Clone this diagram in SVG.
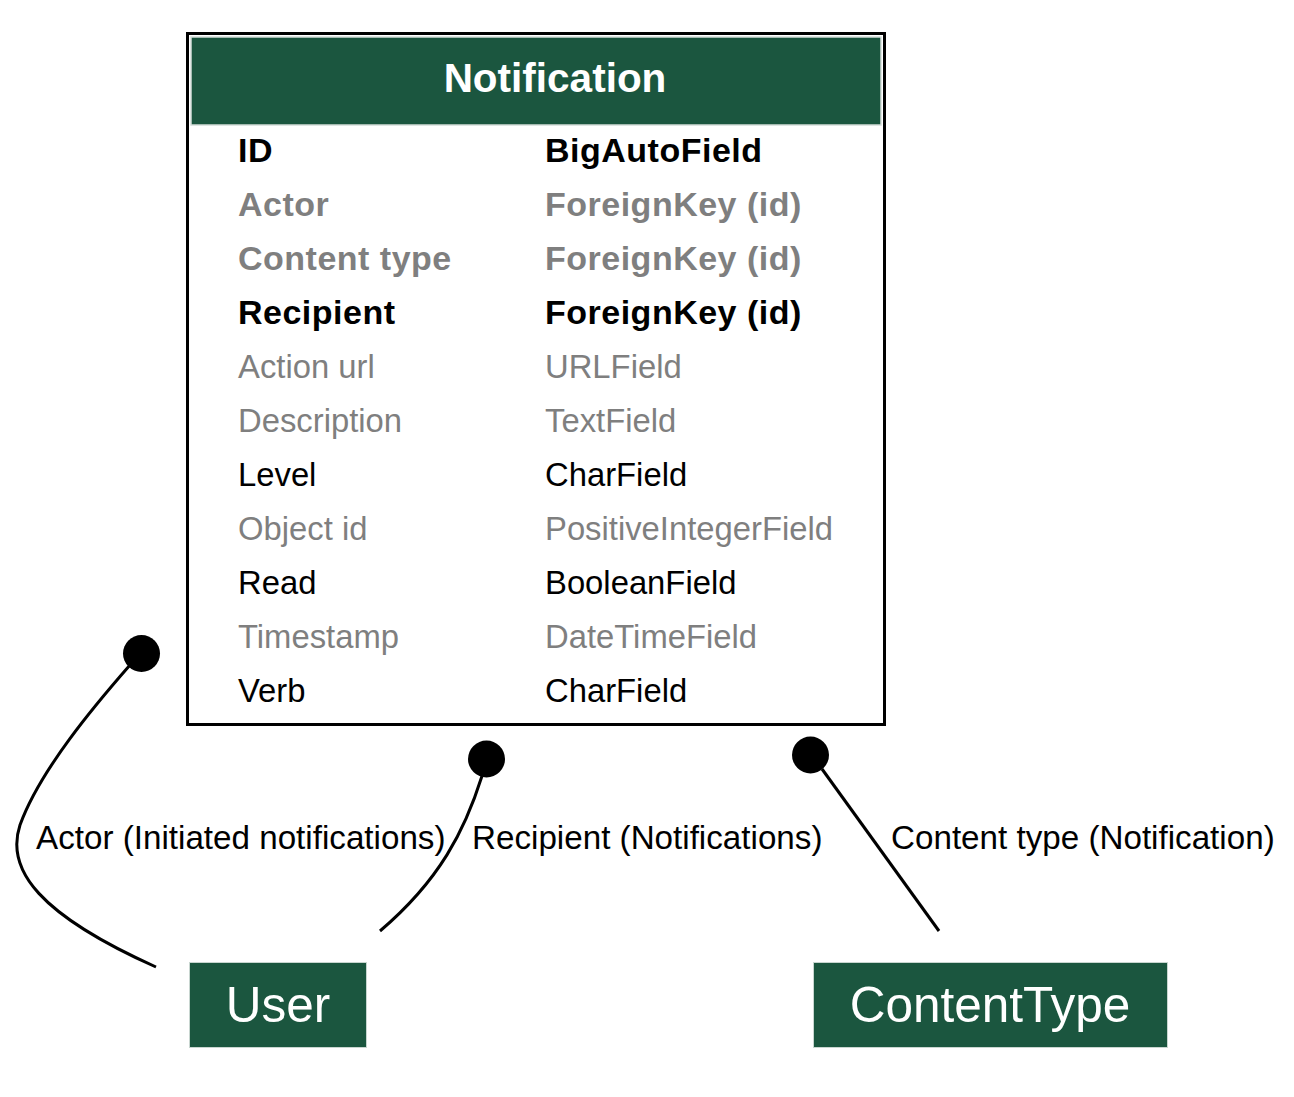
<svg xmlns="http://www.w3.org/2000/svg" width="1294" height="1097" viewBox="0 0 1294 1097">
<style>
text{font-family:"Liberation Sans",Arial,Helvetica,sans-serif}
.row{font-size:32.8px}
.b{font-weight:bold;font-size:34px;letter-spacing:0.5px}
.g{fill:#7f7f7f}
.k{fill:#000}
.lbl{font-size:33.2px;fill:#000}
.edge{fill:none;stroke:#000;stroke-width:3}
.dot{fill:#000}
.box{fill:#1b563f;stroke:#c8d6d0;stroke-width:1}
.title{fill:#fff;font-size:49.5px}
</style>
<rect width="1294" height="1097" fill="#fff"/>
<g id="connectors">
<path class="edge" d="M130 665 C95 705 40 770 20 825 C5 870 40 915 156 967"/>
<circle class="dot" cx="141.5" cy="653.5" r="18.5"/>
<path class="edge" d="M482 776 C465 830 440 880 380 931"/>
<circle class="dot" cx="486.5" cy="759" r="18.5"/>
<path class="edge" d="M822 769 L939 931"/>
<circle class="dot" cx="810.5" cy="755" r="18.5"/>
<text class="lbl" x="36" y="849">Actor (Initiated notifications)</text>
<text class="lbl" x="472" y="849">Recipient (Notifications)</text>
<text class="lbl" x="891" y="849">Content type (Notification)</text>
</g>
<g id="node-notification">
<rect x="187.5" y="33.5" width="697" height="691" fill="#fff" stroke="#000" stroke-width="3"/>
<rect x="191" y="37" width="690" height="88" fill="#1b563f" stroke="#d4ddd9" stroke-width="1.5"/>
<text x="555" y="92" text-anchor="middle" font-weight="bold" font-size="40.5" fill="#fff">Notification</text>
<text class="b k" x="238" y="162">ID</text><text class="b k" x="545" y="162">BigAutoField</text>
<text class="b g" x="238" y="216">Actor</text><text class="b g" x="545" y="216">ForeignKey (id)</text>
<text class="b g" x="238" y="270">Content type</text><text class="b g" x="545" y="270">ForeignKey (id)</text>
<text class="b k" x="238" y="324">Recipient</text><text class="b k" x="545" y="324">ForeignKey (id)</text>
<text class="row g" x="238" y="378">Action url</text><text class="row g" x="545" y="378">URLField</text>
<text class="row g" x="238" y="432">Description</text><text class="row g" x="545" y="432">TextField</text>
<text class="row k" x="238" y="486">Level</text><text class="row k" x="545" y="486">CharField</text>
<text class="row g" x="238" y="540">Object id</text><text class="row g" x="545" y="540">PositiveIntegerField</text>
<text class="row k" x="238" y="594">Read</text><text class="row k" x="545" y="594">BooleanField</text>
<text class="row g" x="238" y="648">Timestamp</text><text class="row g" x="545" y="648">DateTimeField</text>
<text class="row k" x="238" y="702">Verb</text><text class="row k" x="545" y="702">CharField</text>
</g>
<g id="node-user">
<rect class="box" x="189.5" y="962.5" width="177" height="85"/>
<text class="title" x="278" y="1022" text-anchor="middle">User</text>
</g>
<g id="node-contenttype">
<rect class="box" x="813.5" y="962.5" width="354" height="85"/>
<text class="title" x="990" y="1022" text-anchor="middle">ContentType</text>
</g>
</svg>
